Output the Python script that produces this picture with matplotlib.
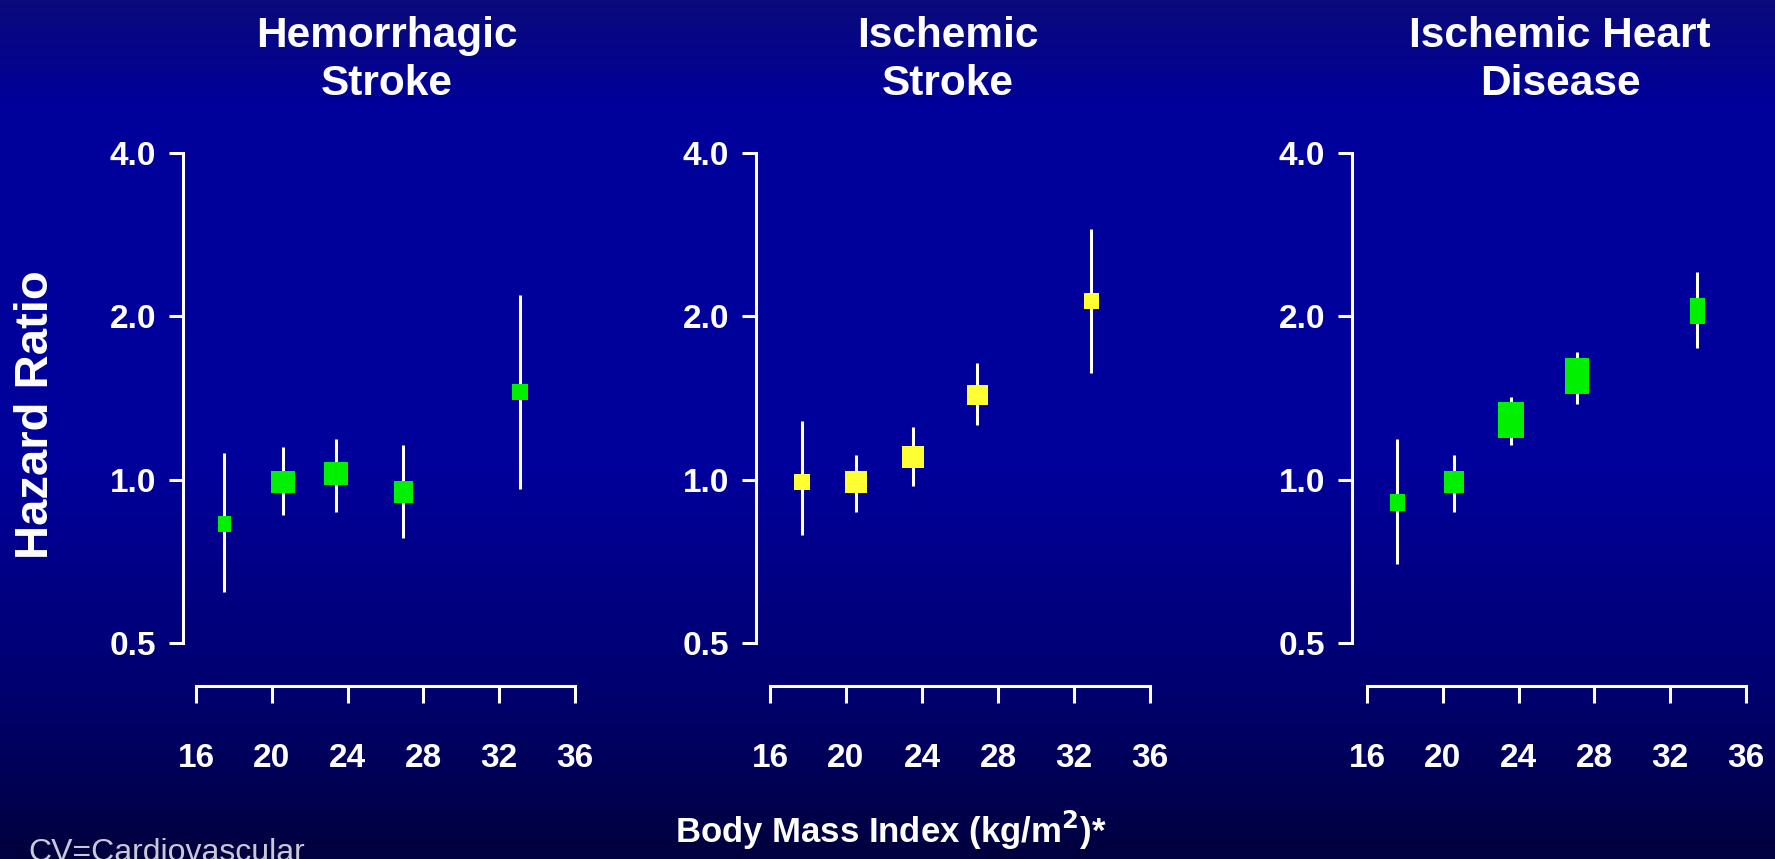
import numpy as np
import matplotlib
matplotlib.use("Agg")
import matplotlib.pyplot as plt
from matplotlib.colors import LinearSegmentedColormap

# BMI category midpoints, hazard ratios and 95% CI per outcome
titles = ["Hemorrhagic\nStroke", "Ischemic\nStroke", "Ischemic Heart\nDisease"]

bmi_hem = [17.5, 20.6, 23.4, 26.9, 33.1]
hr_hem = [0.83, 0.99, 1.03, 0.95, 1.45]
lo_hem = [0.62, 0.86, 0.87, 0.78, 0.96]
hi_hem = [1.12, 1.15, 1.19, 1.16, 2.19]

bmi_isc = [17.7, 20.5, 23.5, 26.9, 32.9]
hr_isc = [0.99, 0.99, 1.10, 1.43, 2.13]
lo_isc = [0.79, 0.87, 0.975, 1.26, 1.57]
hi_isc = [1.28, 1.11, 1.25, 1.64, 2.90]

bmi_ihd = [17.6, 20.6, 23.6, 27.1, 33.4]
hr_ihd = [0.91, 0.99, 1.29, 1.55, 2.05]
lo_ihd = [0.70, 0.87, 1.16, 1.38, 1.75]
hi_ihd = [1.19, 1.11, 1.42, 1.72, 2.41]

y_ticks = [0.5, 1.0, 2.0, 4.0]
y_labels = ["0.5", "1.0", "2.0", "4.0"]
x_ticks = [16, 20, 24, 28, 32, 36]

# box sizes (width, height) in pixels, drawn as markers
box_hem = [(13, 16), (24, 22), (24, 23), (19, 22), (16, 16)]
box_isc = [(16, 16), (22, 22), (23, 23), (21, 20), (15, 16)]
box_ihd = [(15, 17), (21, 23), (26, 36), (24, 36), (15, 26)]

plt.rcParams['font.family'] = ['Liberation Sans', 'DejaVu Sans']

W, H = 1775, 859
fig = plt.figure(figsize=(W / 100, H / 100), dpi=100)

# background gradient
bg = fig.add_axes([0, 0, 1, 1], zorder=-10)
cmap = LinearSegmentedColormap.from_list(
    "bg", [(0.0, "#0a0a7a"), (0.12, "#00009a"), (0.55, "#00009a"),
           (0.8, "#000070"), (1.0, "#00003e")])
grad = np.linspace(0, 1, 256).reshape(-1, 1)
bg.imshow(grad, aspect='auto', cmap=cmap, extent=[0, 1, 0, 1])
bg.axis('off')

# axis pixel layout: left spine, x=16 position, x=36 position, title centre
panels = [
    (bmi_hem, hr_hem, lo_hem, hi_hem, box_hem, "#00f000", 183, 196, 575, 387),
    (bmi_isc, hr_isc, lo_isc, hi_isc, box_isc, "#ffff33", 756, 770, 1150, 948),
    (bmi_ihd, hr_ihd, lo_ihd, hi_ihd, box_ihd, "#00f000", 1352, 1367, 1746, 1560),
]

top_px, bot_px = 153, 643

for i, (bmi, hr, lo, hi, boxes, col, l_px, x16_px, r_px, tx) in enumerate(panels):
    ax = fig.add_axes([l_px / W, 1 - bot_px / H, (r_px - l_px) / W, (bot_px - top_px) / H])
    ax.set_facecolor('none')
    ax.set_yscale('log', base=2)
    ax.set_ylim(0.5, 4.0)
    px_per_unit = (r_px - x16_px) / 20.0
    ax.set_xlim(16 - (x16_px - l_px) / px_per_unit, 36)

    bmi = np.array(bmi)
    hr = np.array(hr)
    ax.vlines(bmi, lo, hi, color='white', lw=2.2, zorder=2)
    for x, y, (bw, bh) in zip(bmi, hr, boxes):
        verts = [(-bw, -bh), (bw, -bh), (bw, bh), (-bw, bh)]
        ax.plot([x], [y], marker=verts, markersize=max(bw, bh) * 0.72,
                color=col, markeredgewidth=0, linestyle='none', zorder=3)

    for s in ['top', 'right']:
        ax.spines[s].set_visible(False)
    ax.spines['left'].set_bounds(0.5, 4.0)
    ax.spines['bottom'].set_bounds(16, 36)
    ax.spines['bottom'].set_position(('outward', 31))
    for s in ['left', 'bottom']:
        ax.spines[s].set_color('white')
        ax.spines[s].set_linewidth(2.2)

    ax.set_yticks(y_ticks)
    ax.set_yticklabels(y_labels)
    ax.yaxis.set_minor_locator(matplotlib.ticker.NullLocator())
    ax.set_xticks(x_ticks)
    ax.tick_params(axis='y', direction='out', length=10.4, width=2.2, colors='white',
                   pad=9, labelsize=24)
    ax.tick_params(axis='x', direction='out', length=12, width=2.2, colors='white',
                   pad=29, labelsize=24)
    for lab in ax.get_xticklabels() + ax.get_yticklabels():
        lab.set_fontweight('bold')

    fig.text(tx / W, 1 - 60 / H, titles[i], ha='center', va='center', color='white',
             fontsize=30.5, fontweight='bold', linespacing=1.27)

fig.text(36 / W, 1 - 415 / H, "Hazard Ratio", rotation=90, ha='center', va='center',
         color='white', fontsize=34, fontweight='bold')
fig.text(891 / W, 1 - 830 / H, "Body Mass Index (kg/m$^{\\mathbf{2}}$)*", ha='center',
         va='center', color='white', fontsize=25, fontweight='bold')
fig.text(28 / W, 1 - 838 / H, "CV=Cardiovascular", ha='left', va='top',
         color='#c8c8d8', fontsize=23)

fig.savefig("out.png", dpi=100)
